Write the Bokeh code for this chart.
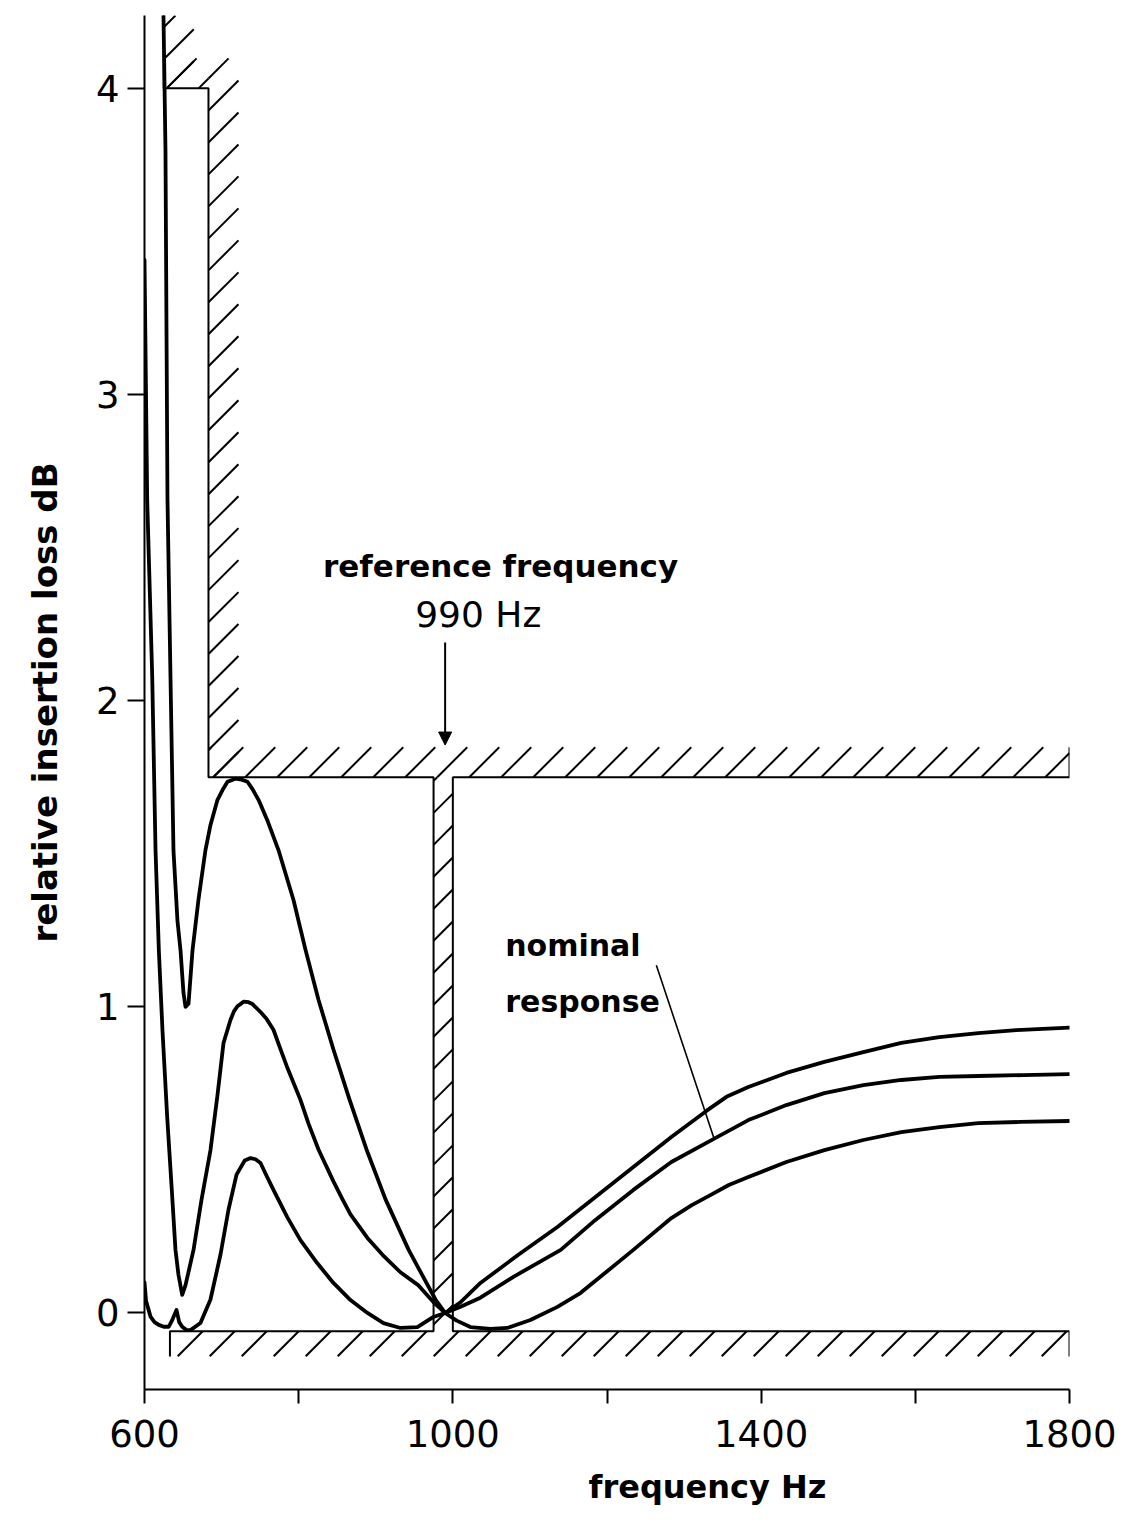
import numpy as np
from bokeh.plotting import figure
from bokeh.models import FixedTicker, Label, Arrow, NormalHead, Title
from bokeh.embed import file_html
from bokeh.resources import INLINE

# ---------------- data ----------------
# curve with the highest left peak (1.75 dB), lowest at the right
upper_f = [624.6, 627.2, 629.8, 633.7, 637.6, 642.8, 646.7, 650.6, 653.2, 657.1,
           662.3, 670.0, 679.1, 685.6, 694.7, 701.2, 707.7, 718.0, 725.8, 733.6,
           740.1, 747.9, 760.0, 773.8, 793.3, 808.9, 825.7, 845.2, 866.0, 888.0,
           912.7, 942.5, 960.0, 977.5, 990.0, 1005.0, 1022.8, 1048.8, 1070.8, 1100.6,
           1135.7, 1165.5, 1185.0, 1234.2, 1283.5, 1310.0, 1334.1, 1358.0, 1383.4, 1432.7,
           1482.0, 1532.6, 1581.8, 1631.1, 1681.7, 1736.0, 1800.0]
upper_db = [4.24, 3.80, 2.66, 2.08, 1.51, 1.28, 1.185, 1.045, 1.00, 1.01,
            1.185, 1.35, 1.512, 1.594, 1.676, 1.708, 1.735, 1.745, 1.742, 1.735,
            1.711, 1.676, 1.605, 1.512, 1.349, 1.186, 1.023, 0.860, 0.697, 0.534,
            0.371, 0.207, 0.125, 0.044, 0.0, -0.025, -0.046, -0.052, -0.049, -0.023,
            0.02, 0.065, 0.105, 0.206, 0.31, 0.352, 0.385, 0.418, 0.444, 0.493,
            0.532, 0.565, 0.591, 0.607, 0.62, 0.624, 0.627]

# nominal response
nominal_f = [600.0, 603.5, 610.0, 614.3, 618.6, 623.3, 629.4, 635.0, 640.2, 644.1,
             648.9, 653.2, 663.6, 673.9, 685.6, 694.7, 702.5, 711.5, 716.0, 720.6,
             728.8, 735.0, 740.1, 750.5, 758.0, 767.3, 776.4, 785.5, 802.3, 813.0,
             825.7, 845.1, 856.9, 867.2, 889.2, 908.8, 932.0, 955.5, 975.0, 990.0,
             1010.0, 1035.8, 1078.6, 1140.0, 1185.0, 1234.2, 1283.5, 1338.0, 1383.4, 1432.7,
             1482.0, 1532.6, 1581.8, 1631.1, 1681.7, 1740.0, 1800.0]
nominal_db = [3.44, 2.655, 2.08, 1.512, 1.185, 0.924, 0.641, 0.418, 0.206, 0.124,
              0.059, 0.091, 0.206, 0.369, 0.532, 0.712, 0.882, 0.957, 0.985, 1.002,
              1.017, 1.015, 1.009, 0.983, 0.962, 0.925, 0.862, 0.80, 0.696, 0.617,
              0.534, 0.43, 0.371, 0.322, 0.245, 0.19, 0.133, 0.09, 0.035, 0.0,
              0.02, 0.05, 0.118, 0.206, 0.304, 0.402, 0.493, 0.568, 0.630, 0.679,
              0.718, 0.744, 0.761, 0.771, 0.774, 0.777, 0.780]

# curve with the lowest left peak (0.5 dB), highest at the right
lower_f = [600.0, 602.0, 607.8, 613.0, 618.5, 625.0, 631.5, 636.5, 641.5, 645.0,
           648.9, 654.0, 659.7, 672.6, 685.6, 698.6, 709.0, 719.4, 730.0, 737.5,
           744.0, 750.5, 758.0, 767.3, 785.0, 802.3, 824.0, 845.1, 867.2, 889.2,
           910.0, 932.0, 954.0, 974.8, 990.0, 1010.0, 1035.8, 1085.0, 1135.7, 1185.0,
           1234.2, 1283.5, 1328.9, 1355.0, 1383.4, 1432.7, 1482.0, 1532.6, 1581.8, 1631.1,
           1681.7, 1731.0, 1800.0]
lower_db = [0.10, 0.04, -0.012, -0.03, -0.039, -0.045, -0.045, -0.02, 0.01, -0.03,
            -0.045, -0.055, -0.056, -0.033, 0.044, 0.191, 0.338, 0.452, 0.498, 0.506,
            0.502, 0.49, 0.45, 0.402, 0.314, 0.238, 0.163, 0.098, 0.042, 0.0,
            -0.033, -0.049, -0.046, -0.013, 0.0, 0.035, 0.098, 0.19, 0.281, 0.379,
            0.477, 0.575, 0.66, 0.706, 0.738, 0.784, 0.820, 0.852, 0.882, 0.901,
            0.914, 0.924, 0.932]

# tolerance mask (limits)
ref_freq = 990.0
mask_left_f = [625.0, 625.0, 683.0, 683.0, 975.0, 975.0, 633.0, 633.0]
mask_left_db = [4.24, 4.0, 4.0, 1.75, 1.75, -0.06, -0.06, -0.142]
mask_right_f = [1800.0, 1800.0, 1000.0, 1000.0, 1800.0, 1800.0]
mask_right_db = [1.848, 1.75, 1.75, -0.06, -0.06, -0.142]

x_ticks = [600, 1000, 1400, 1800]
x_minor_ticks = [800, 1200, 1600]
y_ticks = [0, 1, 2, 3, 4]

# ---------------- layout ----------------
BL, BR, BT, BB = 144, 49, 15, 132
FW, FH = 925, 1375
W, H = BL + FW + BR, BT + FH + BB
X0, X1 = 600.0, 1800.0
Y0, Y1 = -0.25, 4.238
pph = FW / (X1 - X0)      # px per Hz
ppd = FH / (Y1 - Y0)      # px per dB

p = figure(width=W, height=H, x_range=(X0, X1), y_range=(Y0, Y1),
           output_backend="svg", toolbar_location=None,
           min_border_left=BL, min_border_right=BR, min_border_top=BT, min_border_bottom=BB)
p.outline_line_color = None
p.xgrid.visible = False
p.ygrid.visible = False
p.background_fill_color = "white"
p.border_fill_color = "white"

TICK_FONT = "DejaVu Sans"
for ax in (p.xaxis, p.yaxis):
    ax.axis_line_width = 2
    ax.axis_line_color = "black"
    ax.major_tick_line_width = 2
    ax.major_tick_line_color = "black"
    ax.major_tick_in = 0
    ax.major_label_text_font = TICK_FONT
    ax.major_label_text_font_size = "37px"
    ax.major_label_text_color = "black"

p.xaxis.ticker = FixedTicker(ticks=x_ticks, minor_ticks=x_minor_ticks)
p.xaxis.major_tick_out = 14
p.xaxis.minor_tick_out = 14
p.xaxis.minor_tick_in = 0
p.xaxis.minor_tick_line_width = 2
p.xaxis.minor_tick_line_color = "black"
p.xaxis.major_label_standoff = 16

p.yaxis.ticker = FixedTicker(ticks=y_ticks)
p.yaxis.major_tick_out = 17
p.yaxis.minor_tick_line_color = None
p.yaxis.major_label_standoff = 8
p.yaxis.major_label_orientation = "horizontal"
p.yaxis.axis_label = "relative insertion loss dB"
p.yaxis.axis_label_text_font = "DejaVu Sans"
p.yaxis.axis_label_text_font_size = "34px"
p.yaxis.axis_label_text_font_style = "bold"
p.yaxis.axis_label_text_color = "black"
p.yaxis.axis_label_standoff = 28

# x-axis title, offset to where the reference has it
p.add_layout(Title(text="frequency Hz", align="left", offset=444, standoff=33,
                   text_font="DejaVu Sans", text_font_size="32px", text_font_style="bold",
                   text_color="black"), "below")

# ---------------- mask outline ----------------
p.line(mask_left_f, mask_left_db, line_width=2, color="black")
p.line(mask_right_f, mask_right_db, line_width=2, color="black")

# ---------------- hatching (derived from mask geometry) ----------------
up_depth = 30.0 / ppd
low_depth = 25.0 / ppd
side_w = 30.0 / pph
hatch_rects = [
    (mask_left_f[6], mask_right_f[0], mask_left_db[5] - low_depth, mask_left_db[5]),   # lower strip
    (mask_left_f[4], mask_right_f[2], mask_left_db[5], mask_left_db[3]),               # notch strip
    (mask_left_f[2], mask_right_f[0], mask_left_db[3], mask_left_db[3] + up_depth),    # upper strip
    (mask_left_f[2], mask_left_f[2] + side_w, mask_left_db[3], mask_left_db[1] + up_depth),  # side strip
    (mask_left_f[0], mask_left_f[2], mask_left_db[1], mask_left_db[1] + up_depth),     # 4 dB strip
    (mask_left_f[0], mask_left_f[0] + side_w, mask_left_db[1], Y1),                     # top side strip
]
SPACING = 32.0
hx0, hy0, hx1, hy1 = [], [], [], []
for (fa, fb, va, vb) in hatch_rects:
    xa, xb = (fa - X0) * pph, (fb - X0) * pph
    ya, yb = (va - Y0) * ppd, (vb - Y0) * ppd
    c = np.floor((ya - xb) / SPACING) * SPACING
    while c <= yb - xa:
        s0 = max(xa, ya - c)
        s1 = min(xb, yb - c)
        if s1 - s0 > 2:
            hx0.append(X0 + s0 / pph); hy0.append(Y0 + (s0 + c) / ppd)
            hx1.append(X0 + s1 / pph); hy1.append(Y0 + (s1 + c) / ppd)
        c += SPACING
p.segment(hx0, hy0, hx1, hy1, line_width=2, color="black")

# ---------------- response curves ----------------
for fx, dbv in ((upper_f, upper_db), (nominal_f, nominal_db), (lower_f, lower_db)):
    p.line(fx, dbv, line_width=3.8, color="black", line_join="round", line_cap="round")

# ---------------- annotations ----------------
p.add_layout(Label(x=1062, y=2.44, text="reference frequency", text_align="center",
                   text_baseline="middle", text_font="DejaVu Sans", text_font_size="31px",
                   text_font_style="bold", text_color="black"))
p.add_layout(Label(x=1033, y=2.28, text="990 Hz", text_align="center",
                   text_baseline="middle", text_font="DejaVu Sans", text_font_size="36px",
                   text_color="black"))
p.add_layout(Arrow(end=NormalHead(size=13, fill_color="black", line_color="black"),
                   x_start=ref_freq, y_start=2.19, x_end=ref_freq, y_end=1.855,
                   line_width=2, line_color="black"))
p.add_layout(Label(x=1068, y=1.20, text="nominal", text_align="left",
                   text_baseline="middle", text_font="DejaVu Sans", text_font_size="30px",
                   text_font_style="bold", text_color="black"))
p.add_layout(Label(x=1068, y=1.016, text="response", text_align="left",
                   text_baseline="middle", text_font="DejaVu Sans", text_font_size="30px",
                   text_font_style="bold", text_color="black"))
lead_f = [1264.0, 1339.0]
lead_db = [1.136, float(np.interp(1339.0, nominal_f, nominal_db))]
p.line(lead_f, lead_db, line_width=1.6, color="black")

open("out.html", "w").write(file_html(p, INLINE))
